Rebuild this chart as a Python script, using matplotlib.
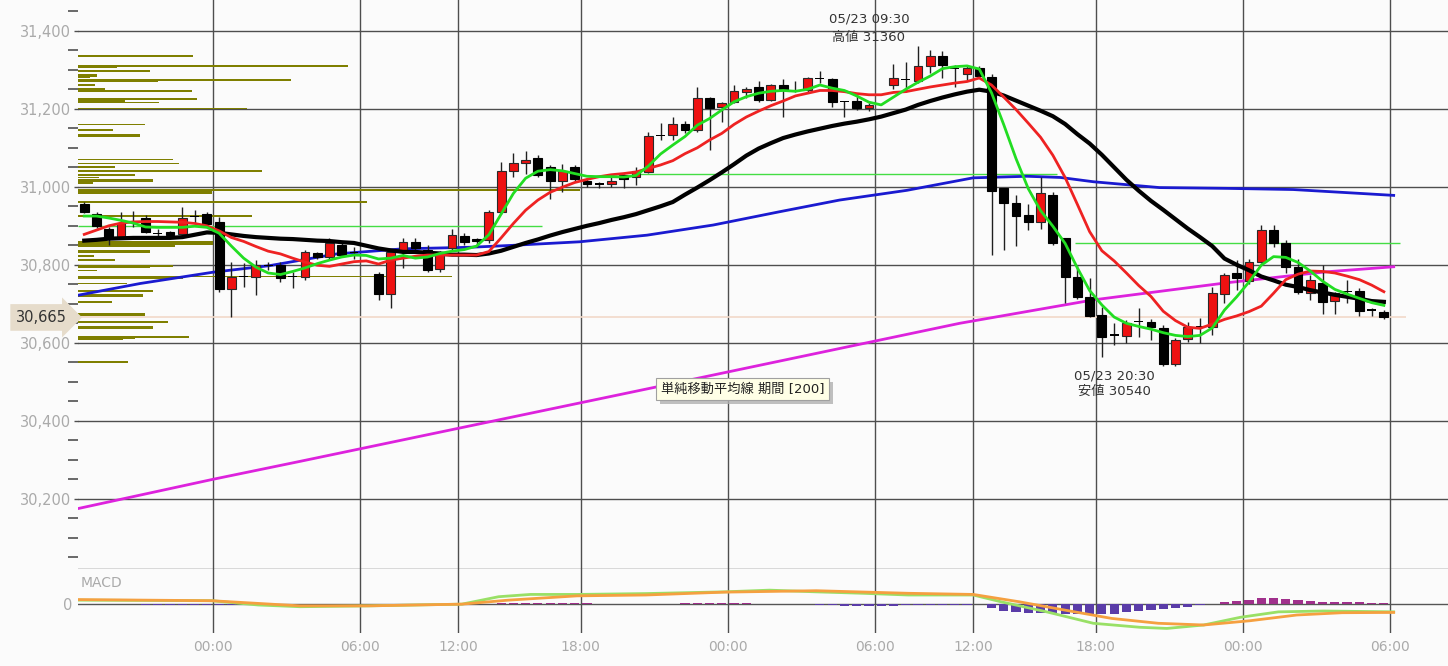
import numpy as np
import matplotlib.pyplot as plt
from matplotlib import transforms
from matplotlib import patheffects

plt.rcParams["font.family"] = ["DejaVu Sans", "Noto Sans CJK JP"]

# %% data: 30-minute candles, slot 0 = 05/22 00:00 (None = session break)
FIRST_SLOT = -11
opens = [30955, 30929, 30893, 30869, 30910, 30919, 30882, 30883, 30880, 30922, 30931,
         30911, 30739, 30771, 30769, 30800, 30799, 30770, 30769, 30830, 30820,
         30851, 30833, None, 30776, 30724, 30838, 30859, 30838, 30788, 30842,
         30874, 30866, 30863, 30936, 31041, 31060, 31075, 31050, 31015, 31050,
         31015, 31008, 31006, 31030, 31026, 31039, 31131, 31134, 31160, 31145,
         31227, 31205, 31218, 31242, 31256, 31222, 31261, 31249, 31248, 31279,
         31276, 31219, 31220, 31201, None, 31261, 31276, 31271, 31310, 31336,
         31305, 31290, 31304, 31282, 30996, 30959, 30927, 30910, 30979, 30868,
         30769, 30718, 30671, 30621, 30617, 30655, 30654, 30639, 30545, 30611,
         30642, 30641, 30725, 30778, 30759, 30808, 30889, 30855, 30795, 30727,
         30754, 30708, 30732, 30733, 30685, 30680]
highs = [30960, 30936, 30897, 30936, 30937, 30927, 30893, 30886, 30949, 30940, 30936,
         30923, 30808, 30804, 30812, 30808, 30808, 30782, 30838, 30833, 30868,
         30856, 30846, None, 30782, 30838, 30868, 30868, 30851, 30836, 30893,
         30881, 30868, 30940, 31064, 31086, 31093, 31081, 31055, 31058, 31056,
         31020, 31013, 31025, 31034, 31051, 31141, 31163, 31180, 31168, 31256,
         31231, 31218, 31261, 31256, 31271, 31263, 31276, 31271, 31282, 31297,
         31278, 31220, 31235, 31215, None, 31316, 31320, 31360, 31350, 31348,
         31312, 31312, 31310, 31289, 30996, 30979, 30957, 31026, 30987, 30868,
         30799, 30765, 30692, 30650, 30658, 30688, 30660, 30645, 30612, 30654,
         30663, 30744, 30778, 30812, 30815, 30902, 30902, 30863, 30816, 30774,
         30799, 30731, 30761, 30740, 30690, 30685]
lows = [30933, 30894, 30851, 30866, 30898, 30881, 30870, 30870, 30875, 30905, 30900,
        30731, 30667, 30743, 30722, 30787, 30757, 30740, 30761, 30815, 30816,
        30820, 30816, None, 30709, 30688, 30791, 30830, 30782, 30782, 30838,
        30851, 30846, 30855, 30930, 31026, 31034, 31026, 30970, 30987, 31015,
        31000, 30996, 31000, 30996, 31004, 31035, 31120, 31120, 31137, 31140,
        31094, 31167, 31214, 31227, 31218, 31220, 31180, 31244, 31244, 31265,
        31205, 31180, 31197, 31194, None, 31252, 31244, 31265, 31292, 31279,
        31256, 31274, 31281, 30825, 30838, 30848, 30889, 30893, 30850, 30701,
        30712, 30667, 30564, 30594, 30600, 30615, 30607, 30540, 30540, 30603,
        30599, 30620, 30701, 30735, 30751, 30804, 30846, 30778, 30725, 30709,
        30675, 30675, 30703, 30668, 30670, 30662]
closes = [30936, 30900, 30869, 30908, 30913, 30885, 30879, 30877, 30919, 30924, 30904,
          30739, 30769, 30768, 30799, 30797, 30765, 30768, 30833, 30820, 30855,
          30825, 30831, None, 30724, 30833, 30859, 30842, 30787, 30832, 30876,
          30859, 30861, 30936, 31041, 31060, 31070, 31030, 31015, 31040, 31020,
          31007, 31006, 31015, 31021, 31040, 31130, 31134, 31160, 31145, 31227,
          31201, 31214, 31245, 31252, 31222, 31261, 31248, 31247, 31279, 31277,
          31218, 31217, 31203, 31211, None, 31278, 31274, 31310, 31336, 31312,
          31303, 31304, 31285, 30990, 30959, 30925, 30910, 30985, 30855, 30768,
          30718, 30668, 30614, 30619, 30651, 30653, 30641, 30545, 30607, 30641,
          30640, 30728, 30774, 30765, 30808, 30889, 30855, 30795, 30731, 30761,
          30705, 30727, 30730, 30682, 30683, 30665]

# moving averages read per slot
ma_short = [30925, 30925, 30920, 30914, 30907, 30897, 30896, 30896, 30896, 30899, 30896,
            30881, 30848, 30817, 30794, 30779, 30775, 30783, 30792, 30803, 30812,
            30820, 30825, 30824, 30815, 30817, 30824, 30817, 30820, 30829, 30835,
            30839, 30848, 30877, 30930, 30983, 31022, 31040, 31044, 31041, 31034,
            31027, 31026, 31026, 31025, 31029, 31053, 31084, 31107, 31129, 31158,
            31175, 31197, 31218, 31231, 31240, 31245, 31247, 31245, 31250, 31261,
            31253, 31247, 31233, 31217, 31210, 31230, 31250, 31268, 31284, 31303,
            31308, 31310, 31302, 31241, 31159, 31072, 30995, 30939, 30899, 30855,
            30792, 30734, 30697, 30666, 30650, 30642, 30635, 30626, 30619, 30616,
            30619, 30638, 30684, 30718, 30756, 30799, 30821, 30819, 30806, 30784,
            30758, 30737, 30725, 30714, 30703, 30696]
ma_mid = [30878, 30889, 30900, 30907, 30910, 30911, 30911, 30910, 30909, 30906, 30900,
          30887, 30870, 30860, 30847, 30835, 30828, 30817, 30807, 30799, 30796,
          30802, 30808, 30810, 30802, 30812, 30817, 30822, 30825, 30825, 30825,
          30825, 30825, 30834, 30869, 30906, 30940, 30966, 30986, 30999, 31011,
          31019, 31026, 31031, 31034, 31038, 31047, 31056, 31067, 31085, 31100,
          31120, 31137, 31160, 31179, 31194, 31208, 31220, 31233, 31240, 31247,
          31247, 31244, 31239, 31236, 31236, 31242, 31244, 31250, 31256, 31261,
          31266, 31270, 31279, 31261, 31230, 31198, 31163, 31127, 31081, 31024,
          30955, 30885, 30836, 30810, 30779, 30747, 30719, 30681, 30657, 30640,
          30637, 30648, 30660, 30669, 30680, 30694, 30727, 30762, 30776, 30784,
          30783, 30779, 30771, 30762, 30748, 30731]
ma_long = [30862, 30864, 30867, 30868, 30869, 30869, 30869, 30869, 30871, 30877, 30883,
           30882, 30878, 30874, 30871, 30869, 30867, 30866, 30864, 30862, 30861,
           30858, 30856, 30849, 30842, 30837, 30833, 30833, 30831, 30829, 30826,
           30826, 30825, 30829, 30836, 30846, 30856, 30865, 30875, 30884, 30892,
           30900, 30907, 30915, 30922, 30930, 30940, 30950, 30961, 30980, 30998,
           31017, 31037, 31058, 31080, 31098, 31112, 31125, 31134, 31142, 31149,
           31156, 31162, 31167, 31173, 31180, 31189, 31198, 31210, 31220, 31229,
           31237, 31244, 31249, 31244, 31234, 31221, 31208, 31195, 31181, 31161,
           31135, 31111, 31082, 31050, 31018, 30990, 30964, 30941, 30917, 30893,
           30871, 30848, 30816, 30800, 30786, 30770, 30760, 30749, 30743, 30735,
           30729, 30723, 30718, 30713, 30707, 30705]

# slower averages, read at a few time points (slot units)
ma75_t = [-11.5, -6.45, -0.5, 4.15, 9.6, 15.0, 20.5, 24.0, 29.4, 34.9, 40.3, 45.7,
          50.6, 56.1, 61.5, 65.9, 68.6, 71.3, 76.7, 82.2, 87.6, 93.1, 95.8]
ma75_v = [30722, 30752, 30781, 30798, 30828, 30841, 30845, 30850, 30859, 30876, 30902, 30936,
          30966, 30991, 31023, 31027, 31024, 31013, 30998, 30996, 30993, 30983, 30978]
ma200_t = [-11.5, -0.5, 6.6, 36.0, 60.4, 71.3, 82.2, 90.3, 95.8]
ma200_v = [30175, 30250, 30296, 30489, 30650, 30710, 30754, 30782, 30795]

# horizontal reference lines: (price, from slot, to slot)
ref_lines = [(30899, -11.5, 26.3), (31034, 34.1, 68.3), (30856, 69.8, 96.3)]
last_price = 30665

# price-by-volume profile
profile_price = [31336, 31310, 31308, 31306, 31297, 31286, 31284, 31282, 31274, 31272, 31274,
                 31261, 31251, 31249, 31246, 31226, 31224, 31222, 31219, 31216, 31201,
                 31160, 31145, 31134, 31131, 31070, 31060, 31051, 31041, 31030, 31024,
                 31017, 31014, 31009, 30989, 30986, 30983, 30992, 30961, 30925,
                 30859, 30856, 30853, 30848, 30836, 30833, 30822, 30812, 30797, 30794,
                 30785, 30768, 30765, 30770, 30752, 30733, 30722, 30719, 30705,
                 30675, 30672, 30654, 30641, 30638, 30615, 30612, 30609, 30550]
profile_vol = [115, 270, 39, 39, 72, 19, 19, 12, 80, 80, 213,
               17, 27, 27, 114, 119, 119, 47, 47, 81, 169,
               67, 35, 62, 62, 95, 101, 37, 184, 57, 21,
               75, 75, 15, 134, 134, 134, 502, 289, 174,
               135, 135, 135, 97, 72, 72, 16, 37, 95, 72,
               19, 105, 105, 374, 49, 75, 65, 65, 34,
               67, 67, 90, 75, 75, 111, 57, 45, 50]

# MACD
macd_t = [-11.5, -0.6, 3.2, 6.6, 12.2, 19.8, 22.8, 25.4, 29.2, 34.8, 41.2, 44.9, 48.7,
          52.5, 56.2, 61.5, 63.8, 67.5, 71.3, 75.1, 77.3, 80.3, 83.3, 86.4, 90.1, 95.8]
macd_v = [12, 10, -5, -11, -8, -2, 24, 32, 32, 35, 41, 47, 41,
          36, 30, 30, 6, -29, -69, -83, -87, -75, -48, -29, -26, -29]
signal_t = [-11.5, -0.6, 6.6, 12.2, 19.8, 23.6, 29.2, 34.8, 41.2, 48.7, 56.2, 61.5,
            65.3, 69.0, 72.8, 76.6, 80.3, 84.1, 87.9, 91.6, 95.8]
signal_v = [14, 10, -8, -8, -2, 12, 27, 30, 40, 45, 36, 32,
            6, -23, -52, -69, -75, -60, -40, -32, -31]
macd_hist = [0, 0, 0, 0, -3, -4, -4, -5, -5, -5, -5, -5, -4, -3,
             0, 0, 0, 0, 0, 0, 0, 0, 0, 0, 0, 0, 0, 0, 0, 0, 0, 0, 0, 0,
             3, 3, 3, 3, 3, 3, 3, 3,
             0, 0, 0, 0, 0, 0, 0,
             2, 2, 2, 2, 2, 2,
             0, 0, 0, 0, 0,
             -4, -5, -7, -8, -8, -8, -7, -6, -6, -5, -5, -4, -4, -3,
             -17, -25, -29, -32, -33, -33, -35, -35, -37, -37, -35, -30, -26, -21, -19, -15, -11, -6,
             0, 5, 9, 14, 20, 20, 17, 12, 10, 7, 6, 5, 4, 3, 2]

tick_slots = [0, 12, 20, 30, 42, 54, 62, 72, 84, 96]
tick_labels = ["00:00", "06:00", "12:00", "18:00", "00:00", "06:00", "12:00", "18:00", "00:00", "06:00"]

# %% figure
XMIN, XMAX = -11.51, 100.23
slots = np.arange(FIRST_SLOT, FIRST_SLOT + len(opens))
o = np.array(opens, dtype=float)
h = np.array(highs, dtype=float)
l = np.array(lows, dtype=float)
c = np.array(closes, dtype=float)
ok = ~np.isnan(o)

fig = plt.figure(figsize=(14.48, 6.66), dpi=100, facecolor="#fbfbfb")
ax = fig.add_axes([78 / 1448, 97 / 666, 1370 / 1448, 569 / 666])
ax2 = fig.add_axes([78 / 1448, 33 / 666, 1370 / 1448, 64 / 666], sharex=ax)
for a in (ax, ax2):
    a.set_facecolor("none")
    for s in a.spines.values():
        s.set_visible(False)

grid_col = "#4e4e4e"
tick_x = np.array(tick_slots) - 0.5

# volume profile
ax.barh(profile_price, np.array(profile_vol) / 12.26, left=XMIN, height=4.2,
        color="#7f7f00", zorder=1)

# grid
for a in (ax, ax2):
    for x in tick_x:
        a.axvline(x, color=grid_col, lw=1.0, zorder=0.5)
for y in range(30200, 31401, 200):
    ax.axhline(y, color=grid_col, lw=1.0, zorder=0.5)
ax.axhline(30020, color=grid_col, lw=1.0, zorder=0.5)

# last price line
ax.hlines(last_price, XMIN, 96.8, color="#f2d9c9", lw=1.2, zorder=1.5)

# reference lines
for price, x0, x1 in ref_lines:
    ax.hlines(price, x0, x1, color="#44dd44", lw=1.0, zorder=2)

# moving averages
ax.plot(ma200_t, ma200_v, color="#dd22dd", lw=2, zorder=2.5)
ax.plot(ma75_t, ma75_v, color="#1a1ad0", lw=2, zorder=2.5)

# candles
body_lo = np.minimum(o, c)
body_h = np.abs(c - o)
doji = ok & (body_h < 4)
up = ok & (c >= o) & ~doji
down = ok & (c < o) & ~doji
ax.vlines(slots[ok], l[ok], h[ok], color="#202020", lw=1.0, zorder=3)
ax.bar(slots[up], body_h[up], bottom=body_lo[up], width=0.72,
       color="#ee1111", edgecolor="#2a2a2a", lw=0.8, zorder=4)
ax.bar(slots[down], body_h[down], bottom=body_lo[down], width=0.72,
       color="#000000", edgecolor="#000000", lw=0.8, zorder=4)
ax.bar(slots[doji], np.full(doji.sum(), 3.0), bottom=(o[doji] + c[doji]) / 2 - 1.5,
       width=0.72, color="#000000", lw=0, zorder=4)

ax.plot(slots, ma_long, color="#000000", lw=3, zorder=5)
ax.plot(slots, ma_mid, color="#ee2222", lw=2, zorder=5.2)
ax.plot(slots, ma_short, color="#22dd22", lw=2, zorder=5.4)

ax.set_xlim(XMIN, XMAX)
ax.set_ylim(30020, 31479)
ax.set_yticks(range(30200, 31401, 200))
ax.set_yticklabels([f"{v:,}" for v in range(30200, 31401, 200)])
ax.set_yticks(range(30050, 31451, 50), minor=True)
ax.tick_params(axis="y", which="major", length=3, width=1, color=grid_col,
               labelsize=10.5, labelcolor="#aaaaaa", pad=2)
ax.tick_params(axis="y", which="minor", length=7, width=1.2, color="#505050")
ax.tick_params(axis="x", length=0, labelbottom=False)

# annotations
hi_i = int(np.nanargmax(h))
lo_i = int(np.nanargmin(l))
ax.text(slots[hi_i] - 4, h[hi_i] + 70, "05/23 09:30", ha="center", va="center",
        fontsize=9.5, color="#333333")
ax.text(slots[hi_i] - 4, h[hi_i] + 24, f"高値 {int(h[hi_i])}", ha="center", va="center",
        fontsize=9.5, color="#333333")
ax.text(slots[lo_i] - 4, l[lo_i] - 25, "05/23 20:30", ha="center", va="center",
        fontsize=9.5, color="#333333")
ax.text(slots[lo_i] - 4, l[lo_i] - 64, f"安値 {int(l[lo_i])}", ha="center", va="center",
        fontsize=9.5, color="#333333")

tip = ax.text(36.0, 30481, "単純移動平均線 期間 [200]", color="#222222",
              fontsize=9.5, va="center", ha="left", zorder=9,
              bbox=dict(boxstyle="square,pad=0.35", fc="#ffffe6", ec="#a0a0a0", lw=0.8))
tip.get_bbox_patch().set_path_effects(
    [patheffects.SimplePatchShadow(offset=(3, -3), shadow_rgbFace="#b0b0b0", alpha=0.8),
     patheffects.Normal()])

trans = transforms.blended_transform_factory(ax.transAxes, ax.transData)
ax.text(-0.008, last_price, f"{last_price:,}", transform=trans, ha="right", va="center",
        fontsize=10.5, color="#333333", zorder=10, clip_on=False,
        bbox=dict(boxstyle="rarrow,pad=0.4", fc="#e6dccb", ec="none"))

# MACD panel
hist = np.array(macd_hist, dtype=float)
hcol = np.where(hist >= 0, "#a0308c", "#5a3ca8")
ax2.bar(slots, hist, width=0.75, color=hcol, zorder=2)
ax2.axhline(0, color="#555555", lw=1.0, zorder=1)
ax2.plot(macd_t, macd_v, color="#99e066", lw=2, zorder=3)
ax2.plot(signal_t, signal_v, color="#f5a040", lw=2, zorder=3.2)
ax2.set_ylim(-103, 121)
ax2.set_yticks([0])
ax2.set_yticklabels(["0"])
ax2.tick_params(axis="y", length=0, labelsize=10.5, labelcolor="#aaaaaa", pad=4)
ax2.set_xticks(tick_x)
ax2.set_xticklabels(tick_labels)
ax2.tick_params(axis="x", length=0, labelsize=10, labelcolor="#aaaaaa", pad=5)
ax2.text(0.002, 0.72, "MACD", transform=ax2.transAxes, fontsize=10, color="#aaaaaa")

fig.savefig("out.png", dpi=100, facecolor=fig.get_facecolor())
